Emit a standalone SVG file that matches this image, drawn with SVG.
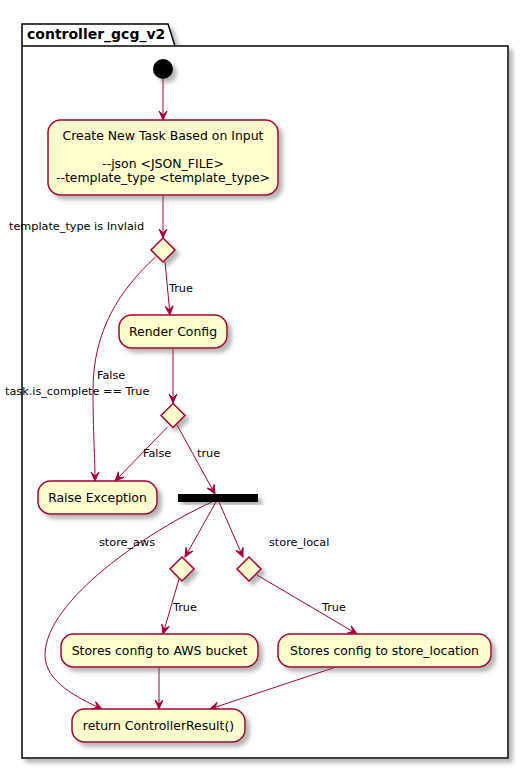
<svg xmlns="http://www.w3.org/2000/svg" width="528" height="770" viewBox="0 0 528 770">
<defs>
<filter id="sh" x="-20%" y="-20%" width="150%" height="150%">
<feGaussianBlur in="SourceAlpha" stdDeviation="2" result="b"/>
<feColorMatrix in="b" type="matrix" values="0 0 0 0 0.1  0 0 0 0 0.1  0 0 0 0 0.1  0 0 0 0.45 0" result="c"/>
<feOffset in="c" dx="4" dy="4" result="o"/>
<feMerge><feMergeNode in="o"/><feMergeNode in="SourceGraphic"/></feMerge>
</filter>
<marker id="ah" viewBox="-10 -5 11 10" refX="0" refY="0" markerWidth="11" markerHeight="10" markerUnits="userSpaceOnUse" orient="auto">
<path d="M0,0 L-9,-4 L-5,0 L-9,4 Z" fill="#A80036" stroke="#A80036" stroke-width="1"/>
</marker>
</defs>
<style>
.box{fill:#FEFECE;stroke:#A80036;stroke-width:1.5;filter:url(#sh)}
.t{font-family:"DejaVu Sans",sans-serif;font-size:12.45px;fill:#000;text-anchor:middle}
.l{font-family:"DejaVu Sans",sans-serif;font-size:11.25px;fill:#000}
.c{fill:none;stroke:#A80036;stroke-width:1;marker-end:url(#ah)}
</style>
<rect width="528" height="770" fill="#fff"/>
<g id="package">
<path d="M22,24 L168,24 L175,46 L508,46 L508,758 L22,758 Z" fill="#fff" stroke="#000" stroke-width="1.5" filter="url(#sh)"/>
<path d="M22,46 L175,46" stroke="#000" stroke-width="1.5" fill="none"/>
<text x="27" y="39" font-family="DejaVu Sans,sans-serif" font-size="14" font-weight="bold">controller_gcg_v2</text>
</g>
<g id="connectors">
<path class="c" d="M163,79 L163,120"/>
<path class="c" d="M163,195 L163,238"/>
<path class="c" d="M165,261.5 L170,315"/>
<path class="c" d="M155.5,257 C120,290 93,330 93,390 C93,430 95,460 95,481"/>
<path class="c" d="M173,348 L173,403"/>
<path class="c" d="M167.5,427 L115,481"/>
<path class="c" d="M177,425 L215,494"/>
<path class="c" d="M212,502 C150,530 45,600 45,655 C45,682 78,698 102,709"/>
<path class="c" d="M216,502 L185,557"/>
<path class="c" d="M219,502 L243,557"/>
<path class="c" d="M179,579 L163,634"/>
<path class="c" d="M257,575 L357,634"/>
<path class="c" d="M159,667 L159,709"/>
<path class="c" d="M336,667 L210,709"/>
<text class="l" x="9" y="230">template_type is Invlaid</text>
<text class="l" x="169" y="292">True</text>
<text class="l" x="97" y="379">False</text>
<text class="l" x="5" y="395">task.is_complete == True</text>
<text class="l" x="143" y="457">False</text>
<text class="l" x="197" y="457">true</text>
<text class="l" x="99" y="546">store_aws</text>
<text class="l" x="269" y="546">store_local</text>
<text class="l" x="173" y="611">True</text>
<text class="l" x="322" y="611">True</text>
</g>
<g id="start"><circle cx="163" cy="69" r="10" fill="#000" filter="url(#sh)"/></g>
<g id="create">
<rect class="box" x="48" y="120" width="230" height="75" rx="12.5"/>
<text class="t" x="163" y="140">Create New Task Based on Input</text>
<text class="t" x="163" y="168">--json &lt;JSON_FILE&gt;</text>
<text class="t" x="163" y="182">--template_type &lt;template_type&gt;</text>
</g>
<g id="d1"><polygon class="box" points="151,250 163,238 175,250 163,262"/></g>
<g id="render">
<rect class="box" x="119" y="315" width="108" height="33" rx="12.5"/>
<text class="t" x="173" y="336">Render Config</text>
</g>
<g id="d2"><polygon class="box" points="161,415.5 173,403.5 185,415.5 173,427.5"/></g>
<g id="raise">
<rect class="box" x="38" y="481" width="119" height="33" rx="12.5"/>
<text class="t" x="97.5" y="502">Raise Exception</text>
</g>
<g id="fork"><rect x="178" y="494" width="80" height="8" fill="#000" filter="url(#sh)"/></g>
<g id="d3"><polygon class="box" points="170,569 182,557 194,569 182,581"/></g>
<g id="d4"><polygon class="box" points="237,569 249,557 261,569 249,581"/></g>
<g id="aws">
<rect class="box" x="61" y="634" width="197" height="33" rx="12.5"/>
<text class="t" x="159.5" y="655">Stores config to AWS bucket</text>
</g>
<g id="local">
<rect class="box" x="278" y="634" width="213" height="33" rx="12.5"/>
<text class="t" x="384.5" y="655">Stores config to store_location</text>
</g>
<g id="return">
<rect class="box" x="72" y="709" width="173" height="33" rx="12.5"/>
<text class="t" x="158.5" y="730">return ControllerResult()</text>
</g>
</svg>
